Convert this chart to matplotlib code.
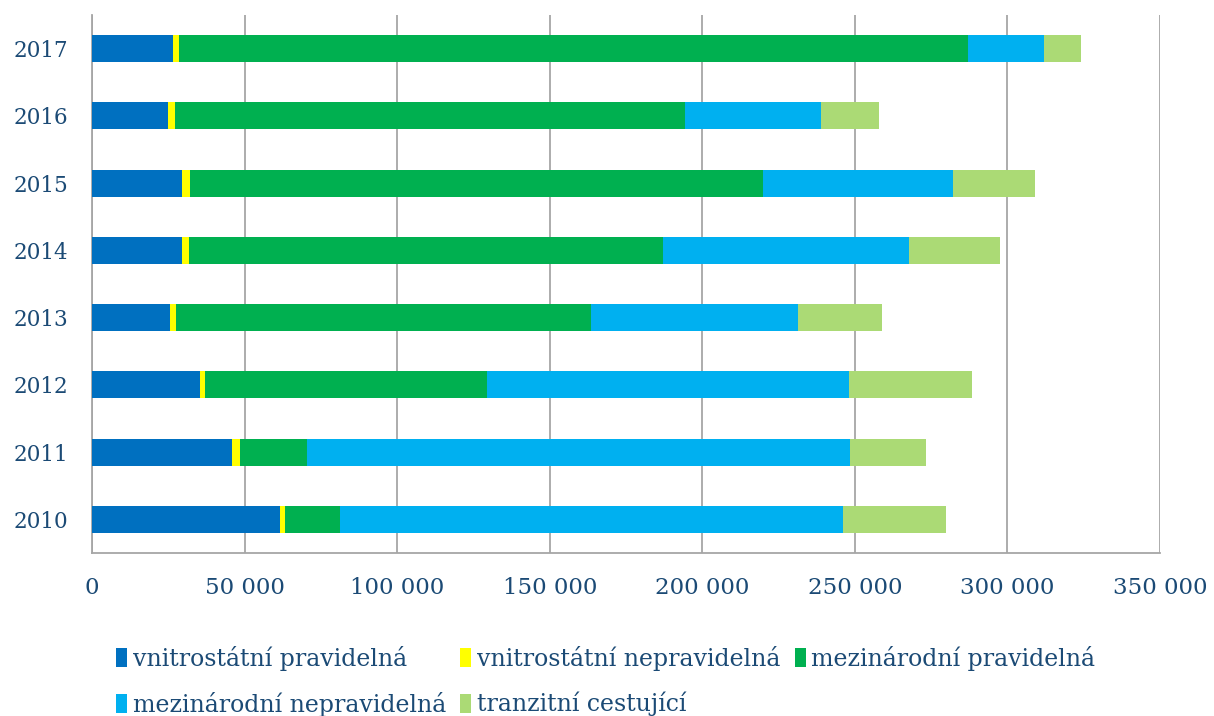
import matplotlib
matplotlib.use("Agg")
import matplotlib.pyplot as plt
import numpy as np
from matplotlib.ticker import FixedLocator, FuncFormatter

years = ["2010", "2011", "2012", "2013", "2014", "2015", "2016", "2017"]
series_names = ["vnitrostátní pravidelná", "vnitrostátní nepravidelná",
                "mezinárodní pravidelná", "mezinárodní nepravidelná",
                "tranzitní cestující"]
vnitro_prav = [61570, 45960, 35480, 25440, 29590, 29590, 24890, 26640]
vnitro_neprav = [1640, 2620, 1640, 2070, 2180, 2610, 2180, 1740]
mezi_prav = [18000, 21810, 92180, 136090, 155430, 187700, 167130, 258720]
mezi_neprav = [164750, 178160, 118900, 67850, 80600, 62200, 44600, 24800]
tranzit = [33840, 24650, 40170, 27450, 29800, 26900, 19240, 12100]
xticks = [0, 50000, 100000, 150000, 200000, 250000, 300000, 350000]

colors = ["#0070C0", "#FFFF00", "#00B050", "#00B0F0", "#ABDA75"]
text_color = "#1B4A75"

plt.rcParams['font.family'] = ['DejaVu Serif']

fig = plt.figure(figsize=(12.14, 7.16), dpi=100)
ax = fig.add_axes([92/1214, 1-553/716, (1160-92)/1214, (553-15)/716])

data = [vnitro_prav, vnitro_neprav, mezi_prav, mezi_neprav, tranzit]
y = np.arange(len(years))
left = np.zeros(len(years))
handles = []
for vals, col, name in zip(data, colors, series_names):
    h = ax.barh(y, vals, left=left, height=0.4, color=col, label=name, zorder=3)
    handles.append(h)
    left += np.array(vals)

ax.set_xlim(0, 350000)
ax.set_ylim(-0.5, len(years) - 0.5)
ax.set_yticks(y)
ax.set_yticklabels(years)
ax.xaxis.set_major_locator(FixedLocator(xticks))
ax.xaxis.set_major_formatter(FuncFormatter(lambda v, p: f"{int(v):,}".replace(",", " ")))
ax.grid(axis='x', color='#A6A6A6', linewidth=1.3, zorder=0)
ax.tick_params(axis='both', length=0, labelcolor=text_color)
ax.tick_params(axis='y', pad=17, labelsize=15.5)
ax.tick_params(axis='x', pad=17.5, labelsize=16.5)
for s in ['top', 'right']:
    ax.spines[s].set_visible(False)
for s in ['left', 'bottom']:
    ax.spines[s].set_color('#A6A6A6')
    ax.spines[s].set_linewidth(1.3)

order = [0, 3, 1, 4, 2]
leg = fig.legend([handles[i] for i in order], [series_names[i] for i in order],
                 ncol=3, loc='upper left', bbox_to_anchor=(116/1214, 1-646/716),
                 frameon=False, fontsize=17, handlelength=0.45, handleheight=0.85,
                 handletextpad=0.25, columnspacing=0.62, labelspacing=0.88,
                 borderaxespad=0, borderpad=0)
for t in leg.get_texts():
    t.set_color(text_color)

fig.savefig("out.png", dpi=100)
